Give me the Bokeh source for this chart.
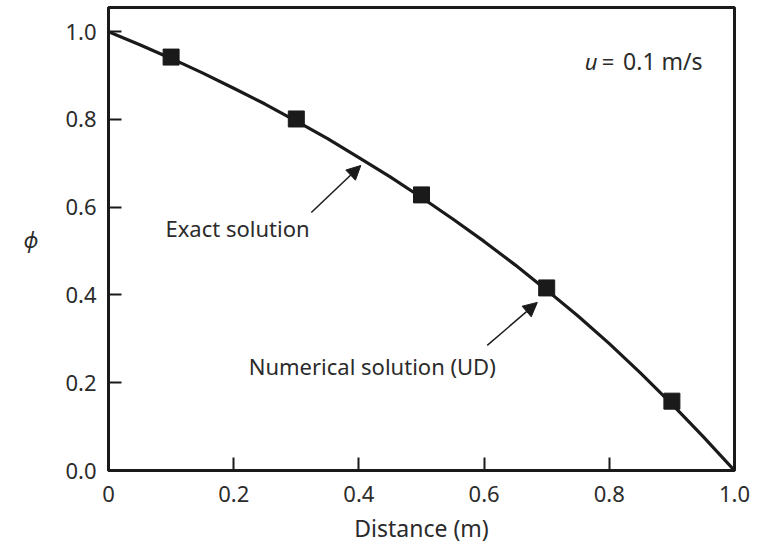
from bokeh.plotting import figure
from bokeh.models import Range1d, FixedTicker, Arrow, NormalHead, Label
from bokeh.embed import file_html
from bokeh.resources import INLINE

# Exact solution curve
exact_x = [0.0, 0.05, 0.1, 0.15, 0.2, 0.25, 0.3, 0.35, 0.4, 0.45, 0.5,
           0.55, 0.6, 0.65, 0.7, 0.75, 0.8, 0.85, 0.9, 0.95, 1.0]
exact_phi = [1.0, 0.970, 0.939, 0.906, 0.871, 0.835, 0.796, 0.756, 0.713, 0.669, 0.622,
             0.573, 0.522, 0.468, 0.411, 0.352, 0.289, 0.222, 0.151, 0.077, 0.0]

# Numerical solution (UD) nodes
num_x = [0.1, 0.3, 0.5, 0.7, 0.9]
num_phi = [0.942, 0.801, 0.628, 0.416, 0.158]

x_ticks = [0.0, 0.2, 0.4, 0.6, 0.8, 1.0]
x_tick_labels = ["0", "0.2", "0.4", "0.6", "0.8", "1.0"]
y_ticks = [0.0, 0.2, 0.4, 0.6, 0.8, 1.0]
y_tick_labels = ["0.0", "0.2", "0.4", "0.6", "0.8", "1.0"]

FONT = "Noto Sans"
TXT = "#2b2b2b"
FS = "22px"

p = figure(width=767, height=547, output_backend="svg", toolbar_location=None,
           x_range=Range1d(0, 1.0), y_range=Range1d(0, 1.055),
           min_border_left=108, min_border_right=33, min_border_top=7, min_border_bottom=77)
p.grid.visible = False
p.background_fill_color = "white"
p.border_fill_color = "white"
p.outline_line_color = "#1a1a1a"
p.outline_line_width = 3
p.outline_line_alpha = 1.0

for ax, ticks, labels in ((p.xaxis[0], x_ticks, x_tick_labels), (p.yaxis[0], y_ticks, y_tick_labels)):
    ax.ticker = FixedTicker(ticks=ticks)
    ax.major_label_overrides = {t: l for t, l in zip(ticks, labels)}
    ax.minor_tick_line_color = None
    ax.major_tick_in = 13
    ax.major_tick_out = 0
    ax.major_tick_line_width = 2
    ax.major_tick_line_color = "#1a1a1a"
    ax.axis_line_width = 3
    ax.axis_line_color = "#1a1a1a"
    ax.major_label_text_font = FONT
    ax.major_label_text_font_size = FS
    ax.major_label_text_color = TXT
    ax.axis_label_text_font = FONT
    ax.axis_label_text_color = TXT
    ax.axis_label_text_font_style = "normal"

p.xaxis.axis_label = "Distance (m)"
p.xaxis.axis_label_text_font_size = "23px"
p.xaxis.major_label_standoff = 15
p.xaxis.axis_label_standoff = 7
p.yaxis.axis_label = "ϕ"
p.yaxis.axis_label_orientation = "horizontal"
p.yaxis.axis_label_text_font_style = "italic"
p.yaxis.axis_label_text_font_size = "22px"
p.yaxis.major_label_standoff = 12
p.yaxis.axis_label_standoff = 24

p.line(exact_x, exact_phi, line_width=3.2, line_color="#1a1a1a")
p.scatter(num_x, num_phi, marker="square", size=16, fill_color="#1a1a1a", line_color="#1a1a1a")

head1 = NormalHead(size=14, fill_color="#1a1a1a", line_color="#1a1a1a")
p.add_layout(Arrow(end=head1, x_start=0.324, y_start=0.588, x_end=0.403, y_end=0.695,
                   line_width=1.5, line_color="#1a1a1a"))
head2 = NormalHead(size=14, fill_color="#1a1a1a", line_color="#1a1a1a")
p.add_layout(Arrow(end=head2, x_start=0.605, y_start=0.285, x_end=0.685, y_end=0.383,
                   line_width=1.5, line_color="#1a1a1a"))

p.add_layout(Label(x=0.091, y=0.553, text="Exact solution", text_font=FONT,
                   text_font_size=FS, text_color=TXT, text_baseline="middle"))
p.add_layout(Label(x=0.224, y=0.239, text="Numerical solution (UD)", text_font=FONT,
                   text_font_size=FS, text_color=TXT, text_baseline="middle"))
p.add_layout(Label(x=0.781, y=0.934, text="u", text_font=FONT, text_font_style="italic",
                   text_font_size=FS, text_color=TXT, text_baseline="middle", text_align="right"))
p.add_layout(Label(x=0.788, y=0.934, text="=", text_font=FONT,
                   text_font_size=FS, text_color=TXT, text_baseline="middle", text_align="left"))
p.add_layout(Label(x=0.822, y=0.934, text="0.1 m/s", text_font=FONT,
                   text_font_size="23px", text_color=TXT, text_baseline="middle", text_align="left"))

open("out.html", "w").write(file_html(p, INLINE))
